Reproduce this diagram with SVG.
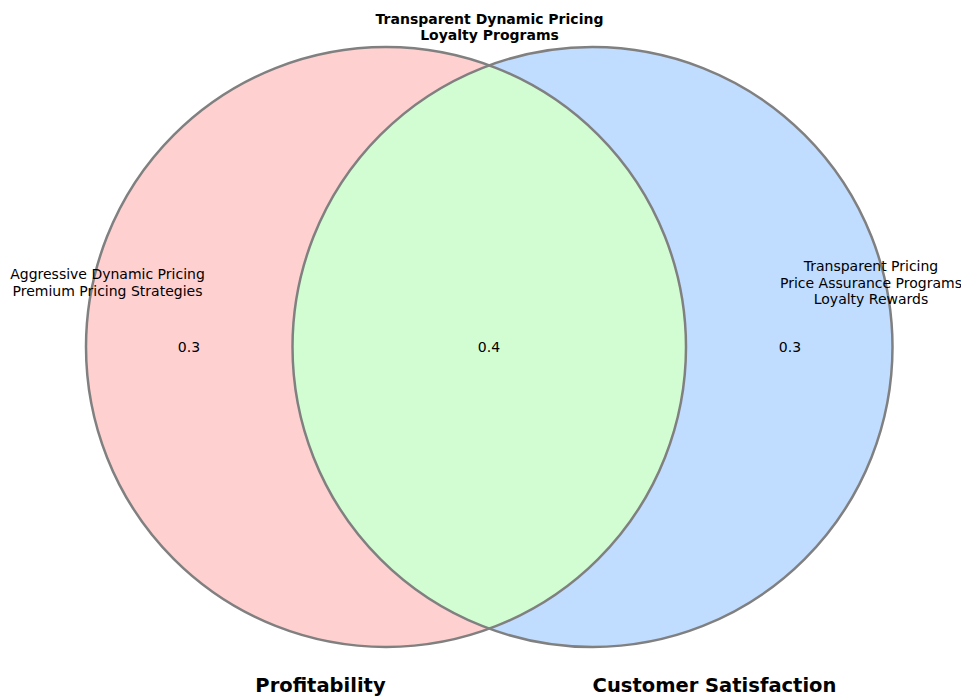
<svg xmlns="http://www.w3.org/2000/svg" width="961" height="696" viewBox="0 0 961 696">
  <style>
    .lbl { font-family: "DejaVu Sans", "Liberation Sans", sans-serif; font-size: 14px; fill: #000; text-anchor: middle; }
    .bold { font-weight: bold; }
    .title { font-family: "DejaVu Sans", "Liberation Sans", sans-serif; font-size: 19.5px; font-weight: bold; fill: #000; text-anchor: middle; }
    .edge { fill: none; stroke: #808080; stroke-width: 2.5; }
  </style>
  <rect width="961" height="696" fill="#ffffff"/>
  <g id="set-profitability">
    <circle cx="386" cy="347" r="300" fill="#ffd0d0"/>
  </g>
  <g id="set-customer-satisfaction">
    <circle cx="592.5" cy="347" r="300" fill="#c0dcff"/>
  </g>
  <g id="overlap">
    <path d="M 489.25 65.2 A 300 300 0 0 1 489.25 628.8 A 300 300 0 0 1 489.25 65.2 Z" fill="#d2fdd2"/>
  </g>
  <g id="outlines">
    <circle class="edge" cx="386" cy="347" r="300"/>
    <circle class="edge" cx="592.5" cy="347" r="300"/>
  </g>
  <g id="labels">
    <text class="lbl bold" x="489.5" y="24">Transparent Dynamic Pricing</text>
    <text class="lbl bold" x="489.5" y="40">Loyalty Programs</text>
    <text class="lbl" x="107.5" y="279">Aggressive Dynamic Pricing</text>
    <text class="lbl" x="107.5" y="296">Premium Pricing Strategies</text>
    <text class="lbl" x="871" y="271">Transparent Pricing</text>
    <text class="lbl" x="871" y="287.5">Price Assurance Programs</text>
    <text class="lbl" x="871" y="303.5">Loyalty Rewards</text>
    <text class="lbl" x="189" y="352">0.3</text>
    <text class="lbl" x="489" y="352">0.4</text>
    <text class="lbl" x="790" y="352">0.3</text>
    <text class="title" x="320.5" y="692">Profitability</text>
    <text class="title" x="714.5" y="692">Customer Satisfaction</text>
  </g>
</svg>
